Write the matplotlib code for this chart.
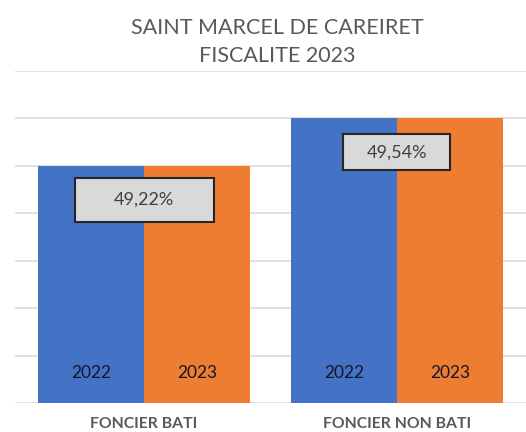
import matplotlib
matplotlib.use("Agg")
import matplotlib.pyplot as plt
import numpy as np
from matplotlib.path import Path

categories = ["FONCIER BATI", "FONCIER NON BATI"]
series_names = ["2022", "2023"]
values_2022 = [49.22, 49.54]
values_2023 = [49.22, 49.54]
value_labels = ["49,22%", "49,54%"]
title = "SAINT MARCEL DE CAREIRET\nFISCALITE 2023"

plt.rcParams['font.family'] = ['Lato', 'DejaVu Sans']

BLUE = "#4472C4"
ORANGE = "#ED7D31"
GREY = "#595959"

fig = plt.figure(figsize=(5.26, 4.32), dpi=100)
ax = fig.add_axes([15/526, (432-403)/432, (526-15)/526, (403-71)/432])

x = np.arange(len(categories))
w = 0.42
b1 = ax.bar(x - w/2, values_2022, width=w, color=BLUE, zorder=2)
b2 = ax.bar(x + w/2, values_2023, width=w, color=ORANGE, zorder=2)

ymin, step = 47.62, 0.32
ax.set_ylim(ymin, ymin + 7*step)
ax.set_yticks(ymin + step*np.arange(8))
ax.set_xlim(-0.51, 1.51)
ax.grid(axis='y', color='#dcdcdc', lw=1.2, zorder=0)
ax.set_axisbelow(True)
for s in ax.spines.values():
    s.set_visible(False)
ax.tick_params(axis='y', length=0, labelleft=False)
ax.tick_params(axis='x', length=0, pad=10)
ax.set_xticks(x)
ax.set_xticklabels(categories, fontsize=11.3, fontweight='bold', color=GREY)

# series labels inside bars
for bars, name in [(b1, series_names[0]), (b2, series_names[1])]:
    for r in bars:
        ax.text(r.get_x() + r.get_width()/2, 0.09, name, transform=ax.get_xaxis_transform(),
                ha='center', va='center', fontsize=12.5, color='#15152a', zorder=3)

def make_box(wpx, hpx):
    def box(x0, y0, width, height, mutation_size):
        cx = x0 + width/2
        cy = y0 + height/2
        verts = [(cx-wpx/2, cy-hpx/2), (cx+wpx/2, cy-hpx/2), (cx+wpx/2, cy+hpx/2),
                 (cx-wpx/2, cy+hpx/2), (cx-wpx/2, cy-hpx/2)]
        return Path(verts, closed=True)
    return box

box_sizes = [(139, 44), (107, 36)]
for i, (v, lab) in enumerate(zip(values_2022, value_labels)):
    ax.annotate(lab, xy=(x[i], v), xytext=(0, -34*72/100), textcoords='offset points',
                ha='center', va='center', fontsize=13, color='#404040', zorder=4,
                bbox=dict(boxstyle=make_box(*box_sizes[i]), fc='#d9d9d9', ec='#262626', lw=1.5))

fig.text(277/526, 1 - 42/432, title, ha='center', va='center', fontsize=15.5,
         color=GREY, linespacing=1.45)

fig.savefig("out.png", dpi=100)
